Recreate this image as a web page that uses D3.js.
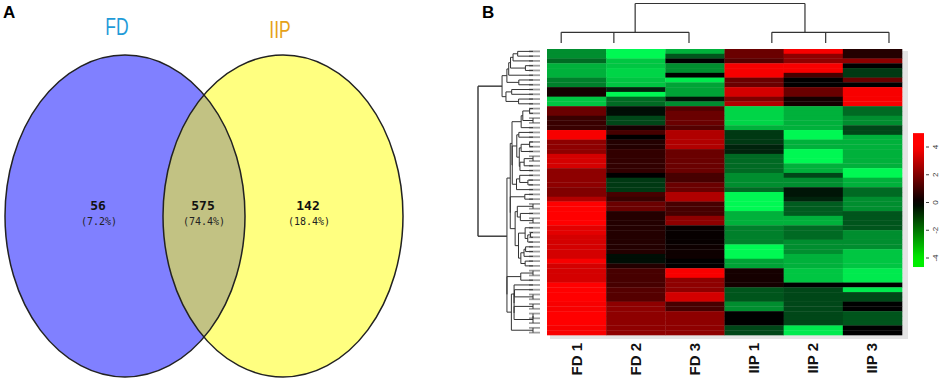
<!DOCTYPE html>
<html>
<head>
<meta charset="utf-8">
<script src="https://cdn.jsdelivr.net/npm/d3@7"></script>
<style>
  body { margin: 0; background: #fff; }
  svg { display: block; }
</style>
</head>
<body>
<div id="chart"></div>
<script>
// ---------- data ----------
// Venn (panel A)
var vennSets = ["FD", "IIP"];
var vennCounts = [56, 575, 142];              // FD only, shared, IIP only
var vennPercents = ["(7.2%)", "(74.4%)", "(18.4%)"];

// Heatmap (panel B)
var samples = ["FD 1", "FD 2", "FD 3", "IIP 1", "IIP 2", "IIP 3"];
var legendTicks = [4, 2, 0, -2, -4];

// column dendrogram: leaf anchors and node anchors in column units
var colLeafPos = [0.24, 1.13, 2.40, 3.80, 4.71, 5.78];
var colGroups = [
  { members: [0, 1, 2], pos: 1.49, h: 0.27 },
  { members: [3, 4, 5], pos: 4.36, h: 0.27 }
];
var colRootHeight = 1;

// z-scores per row (top to bottom), columns FD1..IIP3
var rowValues = [
  [-2, -3.5, -2.5, 1.5, 3.5, 0.5],
  [-2, -3.5, -1.2, 1.5, 2, 0.5],
  [-1.5, -2.8, 0, 1.2, 2, 2],
  [-2.5, -2.8, -2, 3.5, 3.5, 0],
  [-2.5, -3, -2, 3.5, 3.5, -0.8],
  [-2.5, -3, 0, 3.5, 1, -0.8],
  [-1.8, -2.8, -3.3, 1.5, 0, 1.5],
  [-1.8, -2.8, -2.3, 1.5, 0, 0],
  [0.3, -0.5, -2.3, 3, 1.5, 3.5],
  [0.3, -3.5, -2.3, 3, 1.5, 3.5],
  [-2.8, -1.5, -0.3, 1.8, 0.3, 3.5],
  [-2.8, -1.5, -2, 2.5, 0.3, 3.5],
  [1.5, -0.2, 1.2, -3, -2.5, -1.5],
  [1.5, -0.2, 1.5, -3, -2.5, -1.5],
  [0.8, -1, 1.5, -3, -2.5, -2],
  [0.8, -1, 1.5, -3, -2.5, -2],
  [0.8, 0.3, 1.2, -2.5, -2.5, -1],
  [3.5, 1, 2.5, -0.8, -3.5, -1],
  [3.5, 0, 2.5, -0.8, -3.5, -2.5],
  [2, 0.5, 2.5, -0.8, -2.5, -2.5],
  [2, 0.5, 2.5, -0.5, -2.5, -2.5],
  [2, 0.7, 1.5, -0.5, -3.5, -2.5],
  [3, 0.7, 1.5, -1.5, -3.5, -2.5],
  [3, 0.7, 1.5, -1.5, -3.5, -2.5],
  [3, 0.7, 1.5, -1.5, -2.5, -2.5],
  [2, 0.7, 1.5, -1.5, -2.5, -3.5],
  [2, 0, 1, -2, -1, -3.5],
  [2, -0.8, 1, -2, -2, -2.5],
  [2, -0.8, 1.5, -2, -2, -2.5],
  [1.8, -0.8, 1.5, -1.5, -0.3, -1.5],
  [1.8, 1, 2.5, -3.5, -0.3, -1.5],
  [2.5, 0.8, 2.5, -3.5, -0.5, -2],
  [4, 1.5, 1, -3.5, -1.3, -2],
  [4, 1.5, 1, -3.5, -1.3, -2],
  [4, 0.5, 1, -2.5, -1.3, -1.2],
  [4, 0.5, 2, -2.5, -2.5, -1.2],
  [4, 0.5, 2, -2.5, -2.5, -1.2],
  [3.2, 0.5, 0.1, -1.8, -1.5, -1.2],
  [3.2, 0.5, 0.1, -1.8, -1.5, -2],
  [3, 0.5, 0.1, -1.8, -1.5, -2],
  [3, 0.5, 0.1, -1.8, -2, -2],
  [3, 0.5, 0.2, -3.5, -2, -2],
  [3, 0.5, 0.2, -3.5, -2, -2.8],
  [3, -0.2, 0.2, -3.5, -2.5, -2.8],
  [3.5, -0.2, 0, -2.3, -2.5, -2.8],
  [3, 0.5, 0, -2.3, -2.5, -2.8],
  [3, 1, 3.5, 0.3, -2.8, -3.3],
  [3, 1, 3.5, 0.3, -2.8, -3.3],
  [3, 1, 2, 0.3, -2.8, -3.3],
  [4, 1, 2, 0.3, 0, 0],
  [4, 1.2, 2, -1.2, -1, -3.3],
  [4, 1.2, 3, -1.2, -1, -1],
  [4, 1.2, 3, -1.2, -1, -1],
  [3.5, 2, 1, -2, -1, 0],
  [3.5, 2, 1, -2, -1, 0],
  [4, 2, 2, 0, -1, -1.2],
  [4, 2, 2, 0, -1, -1.2],
  [4, 2, 2, 0, -1, -1.2],
  [3.5, 2, 2, -1, -3.3, 0],
  [3.5, 2, 2, -1, -3.3, 0]
];

// ---------- setup ----------
var width = 941, height = 390;

var svg = d3.select("#chart")
    .append("svg")
    .attr("width", width)
    .attr("height", height);

// panel letters
svg.append("text").attr("x", 3).attr("y", 18).text("A")
    .style("font", "bold 17px 'Liberation Sans', Arial, sans-serif");
svg.append("text").attr("x", 482).attr("y", 18).text("B")
    .style("font", "bold 17px 'Liberation Sans', Arial, sans-serif");

// ---------- panel A: Venn ----------
var venn = svg.append("g");
var ell = [
  { cx: 125, cy: 216, rx: 120, ry: 161, fill: "#8080ff" },
  { cx: 283, cy: 216, rx: 120, ry: 161, fill: "#ffff80" }
];

venn.append("clipPath").attr("id", "clipLeft")
  .append("ellipse")
    .attr("cx", ell[0].cx).attr("cy", ell[0].cy)
    .attr("rx", ell[0].rx).attr("ry", ell[0].ry);

venn.selectAll("ellipse.fill")
    .data(ell)
    .enter().append("ellipse")
    .attr("class", "fill")
    .attr("cx", d => d.cx).attr("cy", d => d.cy)
    .attr("rx", d => d.rx).attr("ry", d => d.ry)
    .attr("fill", d => d.fill);

// overlap lens
venn.append("ellipse")
    .attr("cx", ell[1].cx).attr("cy", ell[1].cy)
    .attr("rx", ell[1].rx).attr("ry", ell[1].ry)
    .attr("clip-path", "url(#clipLeft)")
    .attr("fill", "#c2c283");

venn.selectAll("ellipse.edge")
    .data(ell)
    .enter().append("ellipse")
    .attr("class", "edge")
    .attr("cx", d => d.cx).attr("cy", d => d.cy)
    .attr("rx", d => d.rx).attr("ry", d => d.ry)
    .attr("fill", "none")
    .attr("stroke", "#222")
    .attr("stroke-width", 1.5);

var setColors = ["#1f9bd8", "#e6a21a"];
venn.selectAll("text.setname")
    .data(vennSets)
    .enter().append("text")
    .attr("class", "setname")
    .attr("transform", (d, i) => "translate(" + [117, 280][i] + "," + [35, 38][i] + ") scale(0.76,1)")
    .attr("text-anchor", "middle")
    .attr("fill", (d, i) => setColors[i])
    .style("font", "23px 'Liberation Sans Narrow', 'Liberation Sans', sans-serif")
    .text(d => d);

var regionX = [98, 203, 308];
venn.selectAll("text.count")
    .data(vennCounts)
    .enter().append("text")
    .attr("class", "count")
    .attr("x", (d, i) => regionX[i])
    .attr("y", 210)
    .attr("text-anchor", "middle")
    .style("font", "bold 13px 'DejaVu Sans Mono', monospace")
    .attr("fill", "#111")
    .text(d => d);

venn.selectAll("text.pct")
    .data(vennPercents)
    .enter().append("text")
    .attr("class", "pct")
    .attr("x", (d, i) => regionX[i] + 1)
    .attr("y", 225)
    .attr("text-anchor", "middle")
    .style("font", "10px 'DejaVu Sans Mono', monospace")
    .attr("fill", "#222")
    .text(d => d);

// ---------- panel B: heatmap ----------
var hm = { left: 547, right: 902, top: 49, bottom: 335 };

var x = d3.scaleBand().domain(samples).range([hm.left, hm.right]);
var colUnit = d3.scaleLinear().domain([0, samples.length]).range([hm.left, hm.right]);
var y = d3.scaleBand().domain(d3.range(rowValues.length)).range([hm.top, hm.bottom]);

var color = d3.scaleLinear()
    .domain([-3.6, 0, 3.6])
    .range(["#00ff55", "#000000", "#ff0000"])
    .clamp(true);

// soft grey shadow behind heatmap
svg.append("rect")
    .attr("x", hm.left + 3).attr("y", hm.top + 2)
    .attr("width", hm.right - hm.left + 3).attr("height", hm.bottom - hm.top + 2)
    .attr("fill", "#e4e4e4");

var cells = [];
rowValues.forEach(function(row, r) {
    row.forEach(function(v, c) { cells.push({ r: r, c: c, v: v }); });
});

svg.append("g")
    .selectAll("rect")
    .data(cells)
    .enter().append("rect")
    .attr("x", d => x(samples[d.c]))
    .attr("y", d => y(d.r))
    .attr("width", x.bandwidth() + 0.3)
    .attr("height", y.bandwidth() + 0.3)
    .attr("fill", d => color(d.v));

// column labels
svg.append("g")
    .selectAll("text")
    .data(samples)
    .enter().append("text")
    .attr("transform", d => "translate(" + (x(d) + x.bandwidth() / 2 + 5) + "," + 343 + ") rotate(-90)")
    .attr("text-anchor", "end")
    .style("font", "bold 15px 'Liberation Sans', Arial, sans-serif")
    .attr("fill", "#111")
    .text(d => d);

// ---------- column dendrogram ----------
var colH = d3.scaleLinear().domain([0, colRootHeight]).range([43, 3.5]);
var colDendro = svg.append("g")
    .attr("fill", "none")
    .attr("stroke", "#333")
    .attr("stroke-width", 1.2);

colGroups.forEach(function(g) {
    var xs = g.members.map(m => colUnit(colLeafPos[m]));
    colDendro.append("line")
        .attr("x1", d3.min(xs)).attr("x2", d3.max(xs))
        .attr("y1", colH(g.h)).attr("y2", colH(g.h));
    xs.forEach(function(lx) {
        colDendro.append("line")
            .attr("x1", lx).attr("x2", lx)
            .attr("y1", colH(g.h)).attr("y2", colH(0));
    });
    colDendro.append("line")
        .attr("x1", colUnit(g.pos)).attr("x2", colUnit(g.pos))
        .attr("y1", colH(g.h)).attr("y2", colH(colRootHeight));
});
colDendro.append("line")
    .attr("x1", colUnit(colGroups[0].pos)).attr("x2", colUnit(colGroups[1].pos))
    .attr("y1", colH(colRootHeight)).attr("y2", colH(colRootHeight));

// ---------- row dendrogram (order-preserving average linkage) ----------
function dist(a, b) {
    return Math.sqrt(d3.sum(a, (v, i) => (v - b[i]) * (v - b[i])));
}
function avgDist(A, B) {
    var s = 0;
    A.members.forEach(function(i) {
        B.members.forEach(function(j) { s += dist(rowValues[i], rowValues[j]); });
    });
    return s / (A.members.length * B.members.length);
}
function clusterRows() {
    var nodes = rowValues.map((r, i) => ({ members: [i], h: 0, y: y(i) + y.bandwidth() / 2 }));
    while (nodes.length > 1) {
        var best = 0, bd = Infinity;
        for (var i = 0; i < nodes.length - 1; i++) {
            var d = avgDist(nodes[i], nodes[i + 1]);
            if (d < bd) { bd = d; best = i; }
        }
        var a = nodes[best], b = nodes[best + 1];
        nodes.splice(best, 2, {
            children: [a, b],
            members: a.members.concat(b.members),
            h: Math.max(bd, a.h, b.h),
            y: (a.y + b.y) / 2
        });
    }
    return nodes[0];
}
var rowRoot = clusterRows();
var rowH = d3.scalePow().exponent(0.8).domain([0, rowRoot.h]).range([533, 478]);

var rowDendro = svg.append("g").attr("fill", "none");

// grey row-label stubs
rowDendro.selectAll("line.stub")
    .data(rowValues)
    .enter().append("line")
    .attr("x1", 529).attr("x2", 540)
    .attr("y1", (d, i) => y(i) + y.bandwidth() / 2)
    .attr("y2", (d, i) => y(i) + y.bandwidth() / 2)
    .attr("stroke", "#a0a0a0")
    .attr("stroke-width", 1.8);

function drawNode(n, depth) {
    if (!n.children) return;
    var xn = rowH(n.h);
    var w = depth === 0 ? 1.4 : 1;
    rowDendro.append("line")
        .attr("x1", xn).attr("x2", xn)
        .attr("y1", n.children[0].y).attr("y2", n.children[1].y)
        .attr("stroke", "#333").attr("stroke-width", w);
    n.children.forEach(function(ch) {
        rowDendro.append("line")
            .attr("x1", xn).attr("x2", rowH(ch.h))
            .attr("y1", ch.y).attr("y2", ch.y)
            .attr("stroke", "#333").attr("stroke-width", w);
        drawNode(ch, depth + 1);
    });
}
drawNode(rowRoot, 0);

// ---------- colour key ----------
var keyScale = d3.scaleLinear().domain([-4, 4]).range([258, 147]);
var defs = svg.append("defs");
var grad = defs.append("linearGradient")
    .attr("id", "keyGrad")
    .attr("x1", 0).attr("x2", 0).attr("y1", 1).attr("y2", 0);
var keyColor = d3.scaleLinear().domain([-4, 0, 4]).range(["#00ee00", "#000", "#ff0000"]).clamp(true);
d3.range(-4.6, 5.01, 0.4).forEach(function(v, i, arr) {
    grad.append("stop")
        .attr("offset", (v - arr[0]) / (arr[arr.length - 1] - arr[0]))
        .attr("stop-color", keyColor(v));
});
svg.append("rect")
    .attr("x", 913).attr("y", keyScale(5.0))
    .attr("width", 11).attr("height", keyScale(-4.65) - keyScale(5.0))
    .attr("fill", "url(#keyGrad)");

var keyAxis = svg.append("g");
keyAxis.selectAll("line")
    .data(legendTicks)
    .enter().append("line")
    .attr("x1", 926).attr("x2", 929)
    .attr("y1", d => keyScale(d)).attr("y2", d => keyScale(d))
    .attr("stroke", "#444");
keyAxis.selectAll("text")
    .data(legendTicks)
    .enter().append("text")
    .attr("transform", d => "translate(938," + keyScale(d) + ") rotate(-90)")
    .attr("text-anchor", "middle")
    .style("font", "8px 'Liberation Sans', Arial, sans-serif")
    .attr("fill", "#333")
    .text(d => d);
</script>
</body>
</html>
